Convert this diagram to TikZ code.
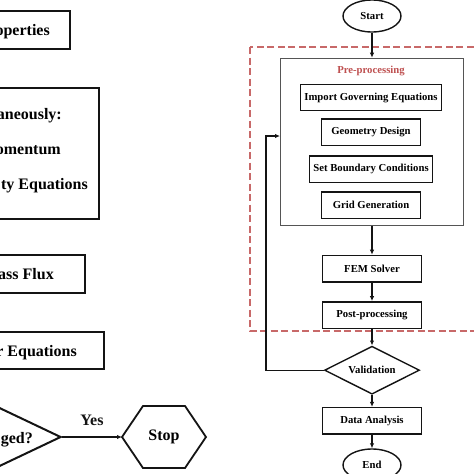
\documentclass[tikz,border=0pt]{standalone}
\usepackage{fontspec}
\setmainfont{Liberation Serif}
\usepackage{tikz}
\usetikzlibrary{arrows.meta, positioning, shapes.geometric}
\definecolor{InkBlack}{RGB}{20,20,20}
\definecolor{FrameGray}{RGB}{85,85,85}
\definecolor{DustyRed}{RGB}{190,80,80}
\definecolor{DashRed}{RGB}{200,105,105}
\tikzset{%
  step_block/.style={%
    rectangle,%
    draw=InkBlack,%
    line width=1.4pt,%
    minimum width=99pt,%
    minimum height=26.5pt,%
    inner sep=0pt,%
    font={\fontsize{10.7}{12}\selectfont\bfseries},%
    align=center%
  },
  term_block/.style={%
    ellipse,%
    draw=InkBlack,%
    line width=1.4pt,%
    minimum width=58pt,%
    minimum height=32pt,%
    inner sep=0pt,%
    font={\fontsize{10.7}{12}\selectfont\bfseries},%
  },
  decision_block/.style={%
    diamond,%
    aspect=2,%
    draw=InkBlack,%
    line width=1.4pt,%
    minimum width=95pt,%
    minimum height=48pt,%
    inner sep=0pt,%
    font={\fontsize{10.7}{12}\selectfont\bfseries},%
  },
  group_block/.style={%
    rectangle,%
    draw=FrameGray,%
    line width=1pt,%
    minimum width=183pt,%
    minimum height=167pt,%
  },
  group_title/.style={%
    text=DustyRed,%
    inner sep=0pt,%
    font={\fontsize{10.7}{12}\selectfont\bfseries},%
  },
  region_path/.style={%
    draw=DashRed,%
    line width=1.1pt,%
    dash pattern=on 7pt off 3.5pt,%
  },
  big_block/.style={%
    rectangle,%
    draw=InkBlack,%
    line width=2pt,%
    minimum width=240pt,%
    inner sep=0pt,%
  },
  big_decision/.style={%
    diamond,%
    aspect=2,%
    draw=InkBlack,%
    line width=2pt,%
    minimum width=138pt,%
    minimum height=66pt,%
    inner sep=0pt,%
  },
  big_text/.style={%
    inner sep=0pt,%
    anchor=base east,%
    font={\fontsize{16}{19}\selectfont\bfseries},%
  },
  big_path/.style={%
    color=InkBlack,%
    line width=1.8pt,%
    line join=miter,%
  },
  flow_path/.style={%
    color=InkBlack,%
    line width=1.2pt,%
    line join=miter,%
  },
  arrow/.style={-{Latex[length=5pt, width=4.5pt]}},
}

\begin{document}
\begin{tikzpicture}[x=1pt, y=-1pt]
    \useasboundingbox (0,0) rectangle (474,474);

    % left chart, cut by the page edge
    \node [big_block, anchor=east, minimum height=38pt] (props) at (71,30) {};
    \node [big_text] (props_text) at (50,35.5) {operties};
    \node [big_block, anchor=east, minimum height=131pt] (solve) at (100,153.5) {};
    \node [big_text] (solve_line1) at (62,119.5) {aneously:};
    \node [big_text] (solve_line2) at (61,154.5) {omentum};
    \node [big_text] (solve_line3) at (88,189.5) {ty Equations};
    \node [big_block, anchor=east, minimum height=38pt] (flux) at (86,274) {};
    \node [big_text] (flux_text) at (54,279.5) {ass Flux};
    \node [big_block, anchor=east, minimum height=37pt] (update) at (105,350.5) {};
    \node [big_text] (update_text) at (77,356.5) {r Equations};
    \node [big_decision] (conv) at (-8,437) {};
    \node [big_text] (conv_text) at (33,443) {ged?};
    \node [big_text, anchor=center] (stop) at (164,437) {Stop};
    \coordinate (stop_west) at (122,437);
    \draw [big_path]
      (stop_west) -- ++(21,-31) -- ++(42,0) -- ++(21,31)
      -- ++(-21,31) -- ++(-42,0) -- cycle;
    \draw [arrow, big_path]
      (conv.east)
      --
      (stop_west)
      node [big_text, pos=0.5, anchor=base, yshift=12pt] (yes) {Yes};

    % right chart
    \draw [region_path] (250,47) rectangle (482,331);
    \node [term_block] (start) at (372,16) {Start};
    \node [group_block, below = 25pt of start] (preproc) {};
    \node [group_title] (preproc_title) at (371,71) {Pre-processing};
    \node [step_block, minimum width=141pt] (import) at (371,97.5) {%
      Import Governing Equations%
    };
    \node [step_block, below = 7pt of import] (geometry) {Geometry Design};
    \node [step_block, minimum width=123pt, below = 9pt of geometry] (boundary) {%
      Set Boundary Conditions%
    };
    \node [step_block, below = 8pt of boundary] (grid) {Grid Generation};
    \node [step_block, below = 29pt of preproc] (fem) {FEM Solver};
    \node [step_block, below = 18.5pt of fem] (post) {Post-processing};
    \node [decision_block, below = 16.5pt of post] (validation) {Validation};
    \node [step_block, below = 12pt of validation] (analysis) {Data Analysis};
    \node [term_block, below = 13.5pt of analysis] (finish) {End};
    \coordinate (loop_back) at (266,136);

    \draw [arrow, flow_path] (start) -- (preproc);
    \draw [arrow, flow_path] (preproc) -- (fem);
    \draw [arrow, flow_path] (fem) -- (post);
    \draw [arrow, flow_path] (post) -- (validation);
    \draw [arrow, flow_path] (validation) -- (analysis);
    \draw [arrow, flow_path] (analysis) -- (finish);
    \draw [arrow, flow_path]
      (validation.west)
      -|
      (loop_back)
      --
      (loop_back -| preproc.west);
\end{tikzpicture}
\end{document}
